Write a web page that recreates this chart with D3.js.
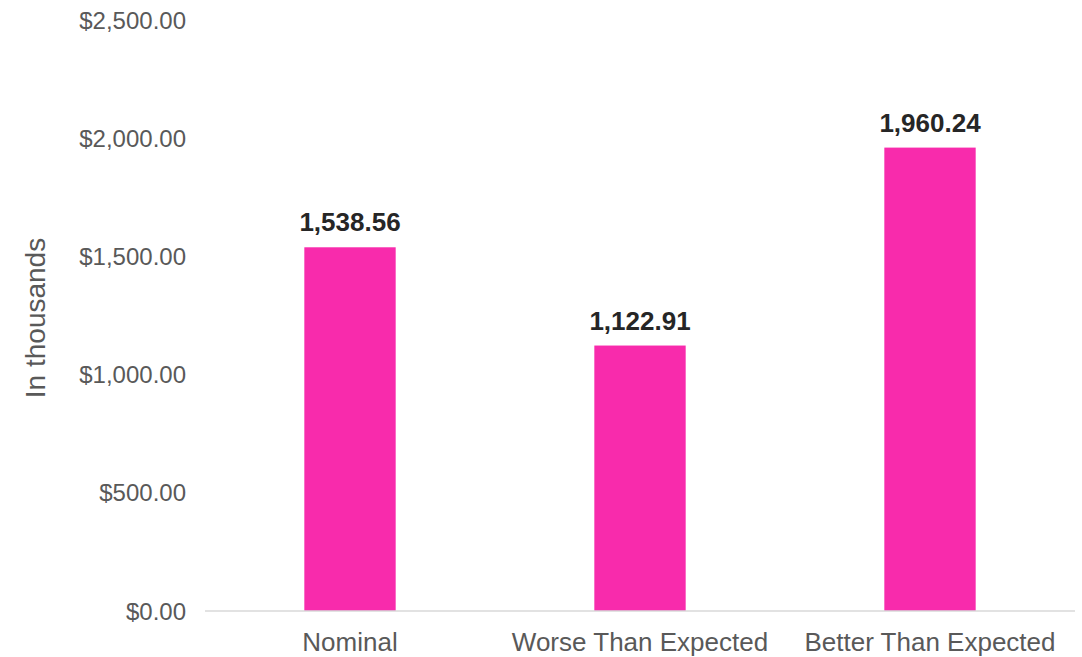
<!DOCTYPE html>
<html>
<head>
<meta charset="utf-8">
<script src="https://cdn.jsdelivr.net/npm/d3@7.9.0/dist/d3.min.js"></script>
<style>
  body { margin: 0; background: #fff; }
  svg { font-family: "Liberation Sans", Arial, sans-serif; }
</style>
</head>
<body>
<svg width="1082" height="657"></svg>
<script>
// chart data
const categories = ['Nominal', 'Worse Than Expected', 'Better Than Expected'];
const values = [1538.56, 1122.91, 1960.24];
const yTicks = [0, 500, 1000, 1500, 2000, 2500];

const svg = d3.select('svg');
const plotLeft = 205, plotRight = 1075, plotTop = 20, plotBottom = 611;

const x = d3.scaleBand().domain(categories).range([plotLeft, plotRight]).padding(0);
const y = d3.scaleLinear().domain([0, 2500]).range([plotBottom, plotTop]);

const barW = x.bandwidth() * 0.315;
const money = d3.format('$,.2f');
const num = d3.format(',.2f');

// y tick labels (no grid except baseline)
svg.append('g')
  .selectAll('text')
  .data(yTicks)
  .join('text')
  .attr('x', 186)
  .attr('y', d => y(d) + 8.5)
  .attr('text-anchor', 'end')
  .attr('font-size', 24)
  .attr('fill', '#595959')
  .text(d => money(d));

// bars
svg.append('g')
  .selectAll('rect')
  .data(values)
  .join('rect')
  .attr('x', (d, i) => x(categories[i]) + x.bandwidth() / 2 - barW / 2)
  .attr('y', d => y(d))
  .attr('width', barW)
  .attr('height', d => y(0) - y(d))
  .attr('fill', '#F82BAC');

// baseline
svg.append('line')
  .attr('x1', plotLeft).attr('x2', plotRight)
  .attr('y1', y(0)).attr('y2', y(0))
  .attr('stroke', '#d9d9d9')
  .attr('stroke-width', 1.5);

// value labels
svg.append('g')
  .selectAll('text')
  .data(values)
  .join('text')
  .attr('x', (d, i) => x(categories[i]) + x.bandwidth() / 2)
  .attr('y', d => y(d) - 16)
  .attr('text-anchor', 'middle')
  .attr('font-size', 26)
  .attr('font-weight', 'bold')
  .attr('fill', '#262626')
  .text(d => num(d));

// category labels
svg.append('g')
  .selectAll('text')
  .data(categories)
  .join('text')
  .attr('x', d => x(d) + x.bandwidth() / 2)
  .attr('y', 651)
  .attr('text-anchor', 'middle')
  .attr('font-size', 26)
  .attr('fill', '#595959')
  .text(d => d);

// axis title
svg.append('text')
  .attr('transform', 'translate(45,318) rotate(-90)')
  .attr('text-anchor', 'middle')
  .attr('font-size', 28)
  .attr('fill', '#595959')
  .text('In thousands');
</script>
</body>
</html>
